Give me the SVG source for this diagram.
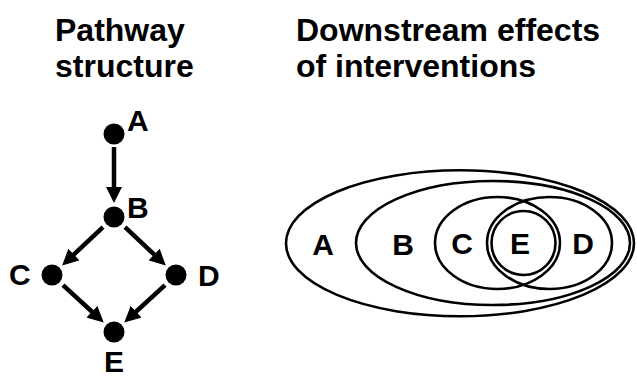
<svg xmlns="http://www.w3.org/2000/svg" width="637" height="377" viewBox="0 0 637 377">
<defs>
<style>
.title{font-family:"Liberation Sans",Arial,sans-serif;font-weight:bold;font-size:32px;fill:#000}
.lbl{font-family:"Liberation Sans",Arial,sans-serif;font-weight:bold;font-size:30px;fill:#000}
.dot{fill:#000}
.edge{stroke:#000;stroke-width:4.5;fill:none;marker-end:url(#ah)}
.set{fill:none;stroke:#000;stroke-width:2.6}
</style>
<marker id="ah" markerUnits="userSpaceOnUse" viewBox="0 0 16 16" markerWidth="16" markerHeight="16" refX="5" refY="8" orient="auto">
<path d="M0,0 L16,8 L0,16 z" fill="#000"/>
</marker>
</defs>
<rect width="637" height="377" fill="#fff"/>
<g id="titles">
<text class="title" x="55" y="41">Pathway</text>
<text class="title" x="55" y="77">structure</text>
<text class="title" x="296" y="41">Downstream effects</text>
<text class="title" x="296" y="77">of interventions</text>
</g>
<g id="connectors">
<line class="edge" x1="114" y1="147" x2="114" y2="192"/>
<line class="edge" x1="103" y1="227.2" x2="70.2" y2="257.9"/>
<line class="edge" x1="125" y1="227.2" x2="157.8" y2="257.9"/>
<line class="edge" x1="63" y1="285.2" x2="95.6" y2="315"/>
<line class="edge" x1="165" y1="285.2" x2="132.4" y2="315"/>
</g>
<g id="node-A"><circle class="dot" cx="114" cy="134" r="10.5"/><text class="lbl" x="127" y="131">A</text></g>
<g id="node-B"><circle class="dot" cx="114" cy="217" r="10.5"/><text class="lbl" x="127" y="218">B</text></g>
<g id="node-C"><circle class="dot" cx="52" cy="275" r="10.5"/><text class="lbl" x="9" y="285">C</text></g>
<g id="node-D"><circle class="dot" cx="176" cy="275" r="10.5"/><text class="lbl" x="198" y="286">D</text></g>
<g id="node-E"><circle class="dot" cx="114" cy="332" r="10.5"/><text class="lbl" x="114" y="372" text-anchor="middle">E</text></g>
<g id="venn">
<g id="set-A"><ellipse class="set" cx="460" cy="243.3" rx="174" ry="73"/><text class="lbl" x="323" y="255" text-anchor="middle">A</text></g>
<g id="set-B"><ellipse class="set" cx="493" cy="243" rx="137" ry="62"/><text class="lbl" x="403" y="255" text-anchor="middle">B</text></g>
<g id="set-C"><ellipse class="set" cx="497.5" cy="243" rx="62.5" ry="46"/><text class="lbl" x="462" y="254" text-anchor="middle">C</text></g>
<g id="set-D"><ellipse class="set" cx="549.5" cy="243" rx="62.5" ry="46"/><text class="lbl" x="583" y="254" text-anchor="middle">D</text></g>
<g id="set-E"><circle class="set" cx="523.5" cy="243" r="32"/><text class="lbl" x="520" y="254" text-anchor="middle">E</text></g>
</g>
</svg>
